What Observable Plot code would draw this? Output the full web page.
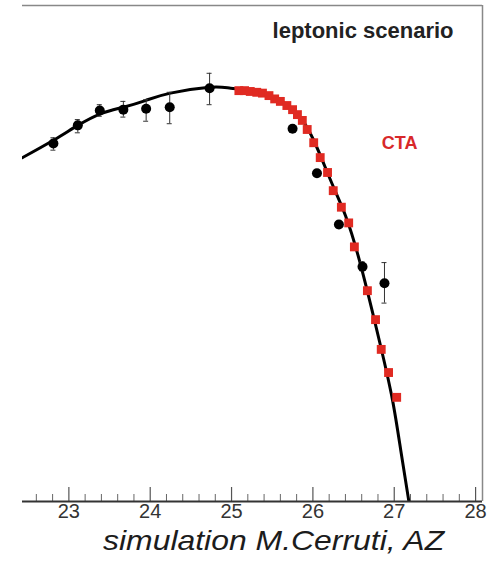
<!DOCTYPE html>
<html>
<head>
<meta charset="utf-8">
<script src="https://cdn.jsdelivr.net/npm/d3@7"></script>
<script src="https://cdn.jsdelivr.net/npm/@observablehq/plot@0.6"></script>
<style>
  body { margin: 0; background: #fff; }
  #wrap { position: relative; width: 492px; height: 575px; }
  #caption { position: absolute; left: 103px; top: 527px; font: italic 28px "Liberation Sans", Arial, sans-serif; line-height: 1; color: #1c1c1c; white-space: nowrap; transform: scaleX(1.14); transform-origin: left top; }
</style>
</head>
<body>
<div id="wrap"><div id="chart"></div><div id="caption">simulation M.Cerruti, AZ</div></div>
<script>
// Black data points (log energy, log flux) with error bars
const blackX  = [22.81, 23.11, 23.38, 23.67, 23.95, 24.24, 24.73, 25.75, 26.05, 26.32, 26.61, 26.88];
const blackY  = [-9.67, -9.45, -9.27, -9.26, -9.25, -9.23, -9.00, -9.49, -10.03, -10.65, -11.16, -11.36];
const blackLo = [-9.75, -9.54, -9.34, -9.35, -9.40, -9.43, -9.20, -9.53, -10.07, -10.69, -11.21, -11.60];
const blackHi = [-9.60, -9.38, -9.20, -9.16, -9.14, -9.05, -8.82, -9.45, -9.99, -10.61, -11.10, -11.11];

// CTA simulated points (red squares)
const ctaX = [25.09, 25.16, 25.23, 25.31, 25.38, 25.46, 25.53, 25.60, 25.68, 25.75, 25.81, 25.87, 25.93, 26.01, 26.09, 26.18, 26.25, 26.35, 26.44, 26.51, 26.67, 26.77, 26.84, 26.93, 27.03];
const ctaY = [-9.03, -9.03, -9.04, -9.05, -9.06, -9.09, -9.13, -9.16, -9.21, -9.26, -9.32, -9.39, -9.50, -9.66, -9.84, -10.02, -10.24, -10.44, -10.63, -10.92, -11.45, -11.80, -12.16, -12.44, -12.74];

// Leptonic model curve
const modelX = [22.43, 22.81, 23.11, 23.39, 23.67, 23.94, 24.25, 24.73, 24.99, 25.36, 25.60, 25.81, 26.01, 26.22, 26.40, 26.59, 26.83, 26.98, 27.08, 27.18];
const modelY = [-9.84, -9.63, -9.45, -9.31, -9.23, -9.15, -9.06, -8.99, -9.00, -9.05, -9.15, -9.31, -9.63, -10.12, -10.54, -11.15, -12.11, -12.78, -13.38, -14.00];

const majorTicks = [23, 24, 25, 26, 27, 28];
const tickLabels = ["23", "24", "25", "26", "27", "28"];
const minorTicks = [22.6, 22.8, 23.2, 23.4, 23.6, 23.8, 24.2, 24.4, 24.6, 24.8, 25.2, 25.4, 25.6, 25.8, 26.2, 26.4, 26.6, 26.8, 27.2, 27.4, 27.6, 27.8];

const xDomain = [22.43, 28.085];
const yDomain = [-14, -8];

const black = blackX.map((x, i) => ({x, y: blackY[i], lo: blackLo[i], hi: blackHi[i]}));
const cta = ctaX.map((x, i) => ({x, y: ctaY[i]}));
const model = modelX.map((x, i) => ({x, y: modelY[i]}));

const font = '"Liberation Sans", Arial, sans-serif';

const chart = Plot.plot({
  width: 492,
  height: 525,
  marginLeft: 22,
  marginRight: 10,
  marginTop: 5,
  marginBottom: 24,
  style: {fontFamily: font, background: "#fff"},
  x: {domain: xDomain},
  y: {domain: yDomain, axis: null},
  marks: [
    // frame top and right
    Plot.ruleY([yDomain[1]], {stroke: "#888", strokeWidth: 1.5}),
    Plot.ruleX([xDomain[1]], {stroke: "#888", strokeWidth: 1.5}),
    // ticks inside bottom
    Plot.ruleX(majorTicks, {x: d => d, insetTop: 482, stroke: "#555", strokeWidth: 1.2}),
    Plot.ruleX(minorTicks, {x: d => d, insetTop: 489, stroke: "#666", strokeWidth: 1}),
    Plot.axisX(majorTicks, {tickSize: 0, tickPadding: 2, fontSize: 20, fill: "#333", tickFormat: (d, i) => tickLabels[i], label: null}),
    // model curve
    Plot.line(model, {x: "x", y: "y", curve: "natural", stroke: "#000", strokeWidth: 3, clip: true}),
    // error bars
    Plot.ruleX(black, {x: "x", y1: "lo", y2: "hi", stroke: "#333", strokeWidth: 1}),
    Plot.ruleY(black, {y: "lo", x1: "x", x2: "x", insetLeft: -2.5, insetRight: -2.5, stroke: "#333", strokeWidth: 1}),
    Plot.ruleY(black, {y: "hi", x1: "x", x2: "x", insetLeft: -2.5, insetRight: -2.5, stroke: "#333", strokeWidth: 1}),
    Plot.dot(black, {x: "x", y: "y", r: 5, fill: "#000"}),
    // CTA squares
    Plot.dot(cta, {x: "x", y: "y", symbol: "square", r: 5, fill: "#e02a22"}),
    // bottom axis line
    Plot.ruleY([yDomain[0]], {stroke: "#333", strokeWidth: 2}),
    // annotations
    Plot.text(["leptonic scenario"], {frameAnchor: "top-right", textAnchor: "end", lineAnchor: "top", dx: -29, dy: 17, fontSize: 22, fontWeight: "bold", fill: "#222"}),
    Plot.text(["CTA"], {frameAnchor: "top-right", textAnchor: "end", lineAnchor: "top", dx: -65, dy: 131, fontSize: 18, fontWeight: "bold", fill: "#d8282a"})
  ]
});
document.getElementById("chart").appendChild(chart);
</script>
</body>
</html>
